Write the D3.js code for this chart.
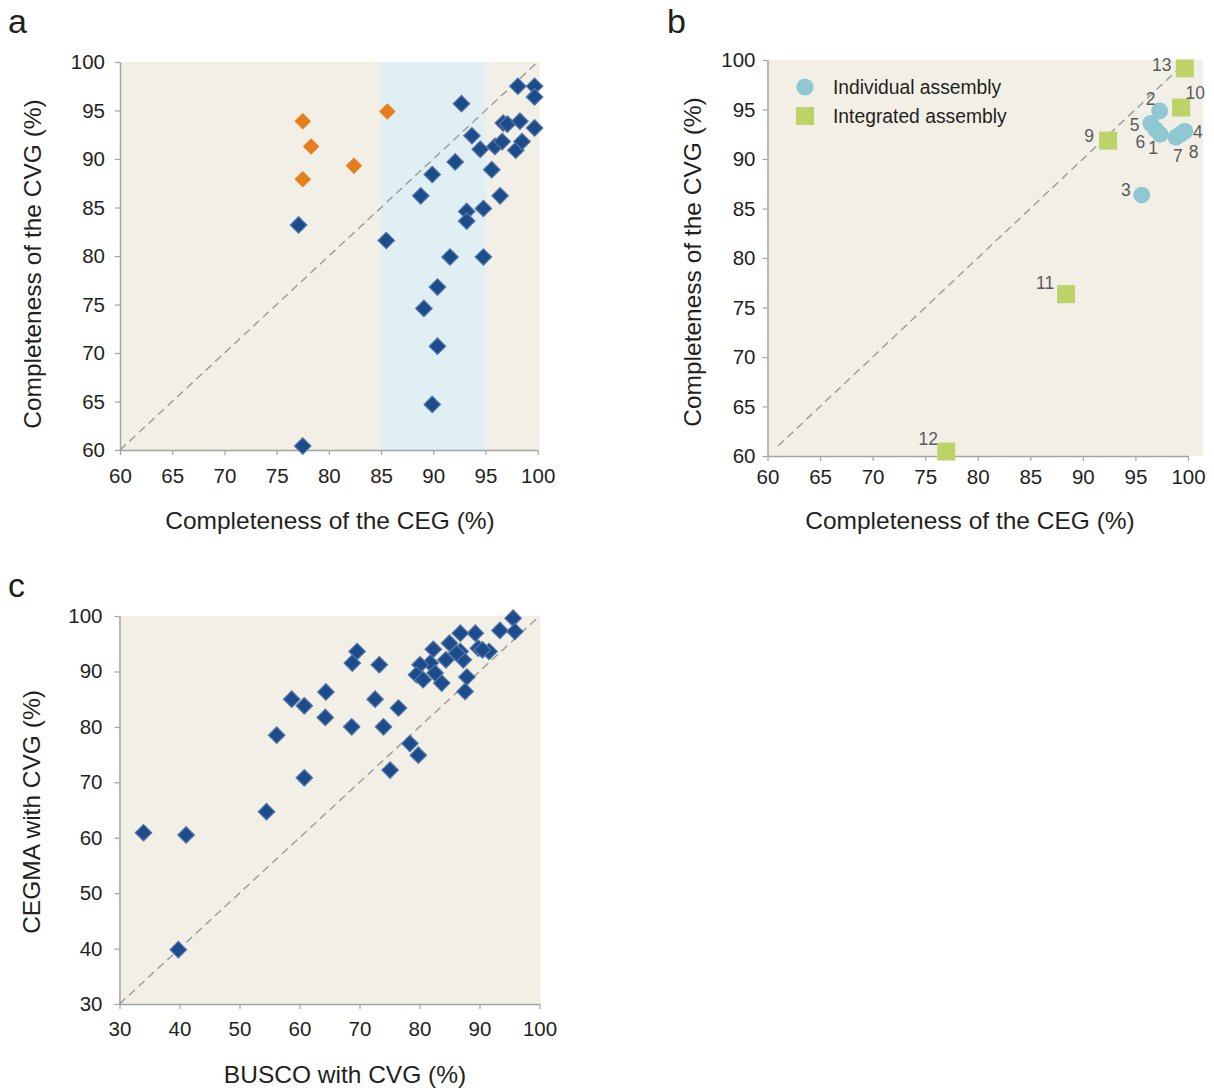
<!DOCTYPE html>
<html>
<head>
<meta charset="utf-8">
<script src="https://cdn.jsdelivr.net/npm/d3@7"></script>
<style>
  body { margin: 0; background: #fff; }
  text { font-family: "Liberation Sans", Arial, Helvetica, sans-serif; fill: #231f20; }
</style>
</head>
<body>
<script>
// panel a: completeness of CEG vs CVG
var aTicks = [60, 65, 70, 75, 80, 85, 90, 95, 100];
var aBand = [85, 95];
var aBlueCeg = [77.1, 77.5, 85.5, 88.8, 89.1, 89.9, 89.9, 90.4, 90.4, 91.6, 92.1, 92.7, 93.2, 93.2, 93.7, 94.5, 94.8, 94.8, 95.6, 95.9, 96.4, 96.6, 96.7, 97.1, 97.9, 98.1, 98.3, 98.5, 99.7, 99.7, 99.7];
var aBlueCvg = [83.2, 60.4, 81.6, 86.2, 74.6, 64.7, 88.4, 76.8, 70.7, 79.9, 89.7, 95.7, 84.6, 83.6, 92.4, 91.0, 84.9, 79.9, 88.9, 91.3, 86.2, 91.8, 93.7, 93.6, 90.9, 97.5, 93.9, 91.8, 97.5, 96.4, 93.2];
var aOrangeCeg = [77.5, 78.3, 85.6, 82.4, 77.5];
var aOrangeCvg = [93.9, 91.3, 94.9, 89.3, 87.9];

// panel b: individual vs integrated assemblies
var bTicks = [60, 65, 70, 75, 80, 85, 90, 95, 100];
var bIndLabels = ["1", "2", "3", "4", "5", "6", "7", "8"];
var bIndCeg = [97.35, 97.3, 95.6, 99.7, 96.45, 96.9, 98.85, 99.3];
var bIndCvg = [92.5, 94.85, 86.35, 92.8, 93.6, 93.0, 92.2, 92.5];
var bIntLabels = ["9", "10", "11", "12", "13"];
var bIntCeg = [92.4, 99.35, 88.4, 77.0, 99.7];
var bIntCvg = [91.85, 95.2, 76.35, 60.45, 99.15];
var bLegend = ["Individual assembly", "Integrated assembly"];

// panel c: BUSCO vs CEGMA
var cTicks = [30, 40, 50, 60, 70, 80, 90, 100];
var cBusco = [34.0, 41.1, 39.8, 54.5, 58.7, 60.8, 56.2, 60.8, 64.4, 64.3, 69.6, 68.8, 73.3, 72.6, 76.5, 68.7, 74.0, 78.4, 79.8, 75.1, 87.6, 87.9, 95.6, 93.4, 95.9, 89.3, 86.8, 82.3, 85.0, 86.8, 89.8, 91.6, 84.4, 87.3, 81.8, 80.1, 79.5, 80.6, 82.6, 83.7, 86.2, 90.5];
var cCegma = [60.9, 60.5, 39.8, 64.7, 85.0, 83.8, 78.5, 70.8, 86.3, 81.7, 93.6, 91.5, 91.2, 85.0, 83.4, 80.0, 80.0, 77.0, 74.9, 72.2, 86.4, 89.0, 99.6, 97.4, 97.2, 96.9, 96.9, 94.0, 95.1, 93.6, 94.2, 93.6, 92.1, 92.1, 91.5, 91.2, 89.4, 88.5, 89.7, 87.9, 93.3, 93.9];

var BG = "#f2efe7", AXIS = "#a3a3a3", BLUE = "#1d4c8c", ORANGE = "#e67e1c",
    TEAL = "#8fc8d3", LIME = "#bdd368", LABEL = "#5a5a5a";

var svg = d3.select("body").append("svg")
    .attr("width", 1214)
    .attr("height", 1088);

function panel(o) {
  var g = svg.append("g");
  var x = d3.scaleLinear().domain(o.dom).range(o.xr);
  var y = d3.scaleLinear().domain(o.dom).range(o.yr);

  g.append("rect")
      .attr("x", o.xr[0])
      .attr("y", o.yr[1])
      .attr("width", o.xr[1] - o.xr[0] + o.extraRight)
      .attr("height", o.yr[0] - o.yr[1])
      .attr("fill", BG);

  var xAxis = g.append("g")
      .attr("transform", "translate(0," + o.yr[0] + ")")
      .call(d3.axisBottom(x).tickValues(o.ticks).tickSize(5).tickSizeOuter(0).tickPadding(o.xPad));
  var yAxis = g.append("g")
      .attr("transform", "translate(" + o.xr[0] + ",0)")
      .call(d3.axisLeft(y).tickValues(o.ticks).tickSize(5).tickSizeOuter(0).tickPadding(o.yPad));

  [xAxis, yAxis].forEach(function(ax) {
    ax.select(".domain").attr("stroke", AXIS).attr("stroke-width", 1.5);
    ax.selectAll(".tick line").attr("stroke", AXIS).attr("stroke-width", 1.2);
    ax.selectAll(".tick text")
        .attr("fill", "#231f20")
        .style("font-size", "20.5px")
        .style("font-family", "'Liberation Sans', Arial, sans-serif");
  });

  g.append("text")
      .attr("x", o.xTitle[0])
      .attr("y", o.xTitle[1])
      .attr("text-anchor", "middle")
      .style("font-size", "24.5px")
      .text(o.xLabel);

  g.append("text")
      .attr("transform", "translate(" + o.yTitle[0] + "," + o.yTitle[1] + ") rotate(-90)")
      .attr("text-anchor", "middle")
      .style("font-size", "24.5px")
      .text(o.yLabel);

  g.append("text")
      .attr("x", o.letter[0])
      .attr("y", o.letter[1])
      .style("font-size", "34px")
      .text(o.letterText);

  return {g: g, x: x, y: y};
}

function diagonal(p, lo, hi) {
  p.g.append("line")
      .attr("x1", p.x(lo)).attr("y1", p.y(lo))
      .attr("x2", p.x(hi)).attr("y2", p.y(hi))
      .attr("stroke", "#9a9a9a")
      .attr("stroke-width", 1.4)
      .attr("stroke-dasharray", "8,5");
}

var diamond = d3.symbol(d3.symbolSquare, 136);

function diamonds(p, xs, ys, fill, stroke) {
  p.g.append("g").selectAll("path")
      .data(d3.zip(xs, ys))
      .enter()
      .append("path")
      .attr("d", diamond)
      .attr("transform", d => "translate(" + p.x(d[0]) + "," + p.y(d[1]) + ") rotate(45)")
      .attr("fill", fill)
      .attr("stroke", stroke)
      .attr("stroke-width", 1.2);
}

// ---- a ----
var pa = panel({
  dom: [60, 100], xr: [120, 537.7], yr: [450, 62], extraRight: 2, ticks: aTicks,
  xPad: 13, yPad: 10,
  xLabel: "Completeness of the CEG (%)", xTitle: [330, 529],
  yLabel: "Completeness of the CVG (%)", yTitle: [41, 264],
  letter: [8, 33], letterText: "a"
});

pa.g.insert("rect", "g")
    .attr("x", pa.x(aBand[0]))
    .attr("y", pa.y(100))
    .attr("width", pa.x(aBand[1]) - pa.x(aBand[0]))
    .attr("height", pa.y(60) - pa.y(100))
    .attr("fill", "#e0eff4");

diagonal(pa, 60, 100);
diamonds(pa, aBlueCeg, aBlueCvg, BLUE, "#5576a8");
diamonds(pa, aOrangeCeg, aOrangeCvg, ORANGE, "none");

// ---- b ----
var pb = panel({
  dom: [60, 100], xr: [767.5, 1188], yr: [456, 60], extraRight: 15, ticks: bTicks,
  xPad: 8, yPad: 7,
  xLabel: "Completeness of the CEG (%)", xTitle: [970, 529],
  yLabel: "Completeness of the CVG (%)", yTitle: [701, 262],
  letter: [667, 33], letterText: "b"
});

diagonal(pb, 61, 100);

// label offsets around each point, in px
var bOffsets = {
  "1": [-7, 14], "2": [-9, -12], "3": [-16, -5], "4": [13, 1], "5": [-16, 2],
  "6": [-15, 13], "7": [2, 19], "8": [13, 18], "9": [-19, -5], "10": [14, -15],
  "11": [-21, -11], "12": [-18, -13], "13": [-23, -3]
};

var ind = d3.zip(bIndLabels, bIndCeg, bIndCvg);
var integ = d3.zip(bIntLabels, bIntCeg, bIntCvg);

pb.g.append("g").selectAll("circle")
    .data(ind)
    .enter()
    .append("circle")
    .attr("cx", d => pb.x(d[1]))
    .attr("cy", d => pb.y(d[2]))
    .attr("r", 8.4)
    .attr("fill", TEAL);

pb.g.append("g").selectAll("rect")
    .data(integ)
    .enter()
    .append("rect")
    .attr("x", d => pb.x(d[1]) - 9)
    .attr("y", d => pb.y(d[2]) - 9)
    .attr("width", 18)
    .attr("height", 18)
    .attr("fill", LIME);

pb.g.append("g").selectAll("text")
    .data(ind.concat(integ))
    .enter()
    .append("text")
    .attr("x", d => pb.x(d[1]) + bOffsets[d[0]][0])
    .attr("y", d => pb.y(d[2]) + bOffsets[d[0]][1])
    .attr("text-anchor", "middle")
    .attr("dominant-baseline", "central")
    .style("font-size", "17.5px")
    .style("fill", LABEL)
    .text(d => d[0]);

// legend
var leg = pb.g.append("g").attr("transform", "translate(805,87)");
leg.append("circle").attr("r", 8.6).attr("fill", TEAL);
leg.append("rect").attr("x", -9).attr("y", 20).attr("width", 18).attr("height", 18).attr("fill", LIME);
leg.selectAll("text")
    .data(bLegend)
    .enter()
    .append("text")
    .attr("x", 28)
    .attr("y", (d, i) => i * 29)
    .attr("dominant-baseline", "central")
    .style("font-size", "19.3px")
    .text(d => d);

// ---- c ----
var pc = panel({
  dom: [30, 100], xr: [119.5, 539.5], yr: [1004, 616], extraRight: 1, ticks: cTicks,
  xPad: 12, yPad: 12,
  xLabel: "BUSCO with CVG (%)", xTitle: [345, 1083],
  yLabel: "CEGMA with CVG (%)", yTitle: [40, 812],
  letter: [8, 597], letterText: "c"
});

diagonal(pc, 30, 100);
diamonds(pc, cBusco, cCegma, BLUE, "#5576a8");
</script>
</body>
</html>
